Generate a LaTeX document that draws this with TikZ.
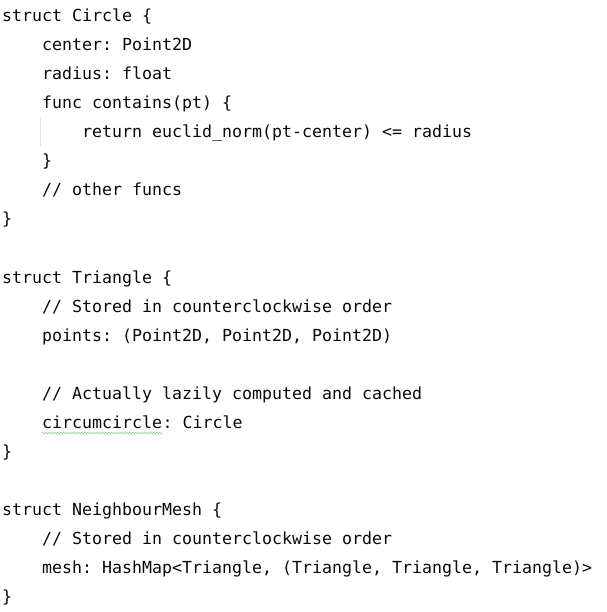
\documentclass[tikz,border=0pt]{standalone}
\usepackage{fontspec}
\setmonofont{DejaVu Sans Mono}
\usetikzlibrary{decorations.pathmorphing}

\definecolor{codeink}{HTML}{080808}
\definecolor{guidegray}{HTML}{E3E3E3}
\definecolor{typogreen}{HTML}{8CC88C}
\newcommand{\codefont}{\ttfamily\fontsize{16.61pt}{29pt}\selectfont}

\begin{document}
\begin{tikzpicture}[x=1pt, y=-1pt,
    code/.style={anchor=base west, inner sep=0pt, text=codeink, font=\codefont}]
      \useasboundingbox (0,0) rectangle (606,612);
      % struct Circle
      \node[code] (l0)  at (2, 22)  {struct Circle \{};
      \node[code] (l1)  at (42, 51) {center: Point2D};
      \node[code] (l2)  at (42, 80) {radius: float};
      \node[code] (l3)  at (42, 109) {func contains(pt) \{};
      \node[code] (l4)  at (82, 138) {return euclid\_norm(pt-center) <= radius};
      \node[code] (l5)  at (42, 167) {\}};
      \node[code] (l6)  at (42, 196) {// other funcs};
      \node[code] (l7)  at (2, 225) {\}};
      % struct Triangle
      \node[code] (l9)  at (2, 283) {struct Triangle \{};
      \node[code] (l10) at (42, 312) {// Stored in counterclockwise order};
      \node[code] (l11) at (42, 341) {points: (Point2D, Point2D, Point2D)};
      \node[code] (l13) at (42, 399) {// Actually lazily computed and cached};
      \node[code] (circ) at (42, 428) {circumcircle};
      \node[code] (l14) at (circ.base east) {: Circle};
      \node[code] (l15) at (2, 457) {\}};
      % struct NeighbourMesh
      \node[code] (l17) at (2, 515) {struct NeighbourMesh \{};
      \node[code] (l18) at (42, 544) {// Stored in counterclockwise order};
      \node[code] (l19) at (42, 573) {mesh: HashMap<Triangle, (Triangle, Triangle, Triangle)>};
      \node[code] (l20) at (2, 602) {\}};
      % indent guide and typo mark
      \coordinate (gtop) at (40.5, 117);
      \coordinate (gbot) at (40.5, 146);
      \draw[guidegray, line width=1pt] (gtop) -- (gbot);
      \draw[typogreen, line width=0.6pt, decorate,
        decoration={zigzag, segment length=3pt, amplitude=0.8pt}]
        ([yshift=-5pt]circ.base west) -- ([yshift=-5pt]circ.base east);
    \end{tikzpicture}
\end{document}
